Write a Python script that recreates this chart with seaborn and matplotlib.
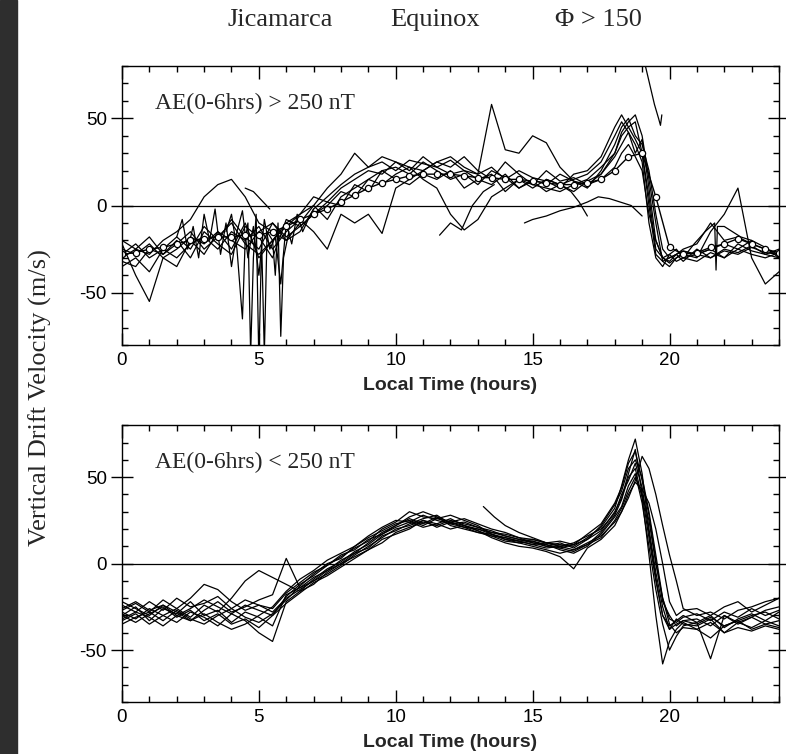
import numpy as np
import pandas as pd
import seaborn as sns
import matplotlib.pyplot as plt
from matplotlib.patches import Rectangle
from matplotlib.ticker import MultipleLocator

# common time grid (hours), finer around the sunset peak
hours = [0, 0.5, 1, 1.5, 2, 2.5, 3, 3.5, 4, 4.5, 5, 5.5, 6, 6.5, 7, 7.5, 8, 8.5, 9, 9.5,
         10, 10.5, 11, 11.5, 12, 12.5, 13, 13.5, 14, 14.5, 15, 15.5, 16, 16.5, 17, 17.5, 18,
         18.25, 18.5, 18.75, 19, 19.25, 19.5, 19.75, 20, 20.25, 20.5,
         21, 21.5, 22, 22.5, 23, 23.5, 24]

# ---- top panel: AE(0-6hrs) > 250 nT ----
top_1 = [-22, -40, -55, -30, -35, -20, -28, -15, -25, -10, -30, -20, -12, -5, 0, -8, 5, 10, 15, 20,
         22, 18, 25, 20, 15, 18, 12, 20, 16, 10, 15, 12, 18, 14, 10, 20, 35,
         45, 50, 40, 35, 20, -5, -25, -30, -28, -32,
         -25, -30, -26, -28, -24, -27, -28]
top_2 = [-30, -25, -28, -20, -15, -8, 5, 12, 15, 5, -10, -15, -20, -10, 0, 10, 18, 30, 22, 25,
         20, 26, 24, 22, 18, 20, 15, 12, 18, 10, 14, 8, 12, 15, 18, 25, 40,
         48, 42, 30, 38, 10, -20, -30, -33, -30, -27,
         -28, -25, -30, -22, -26, -28, -25]
top_3 = [-35, -30, -38, -25, -30, -22, -18, -25, -15, -20, -12, -25, -15, -8, -15, -25, -5, -10, -5, -16,
         10, 15, 20, 25, 22, 28, 20, 15, 25, 18, 12, 20, 14, 16, 12, 18, 30,
         40, 45, 38, 30, 5, -25, -30, -28, -32, -30,
         -28, -25, -22, -25, -20, -24, -30]
top_4 = [-25, -28, -22, -30, -25, -18, -22, -15, -20, -25, -15, -10, -18, -12, -5, 0, 8, 5, 15, 12,
         18, 22, 15, 10, -5, -14, -8, 5, 10, 15, 12, 10, 8, 12, 15, 22, 30,
         42, 48, 52, 40, 15, -10, -32, -35, -30, -28,
         -30, -15, -5, 10, -30, -45, -38]
top_5 = [-20, -25, -18, -28, -22, -15, -25, -18, -10, -22, -28, -20, -10, -5, 5, 2, 10, 15, 20, 18,
         25, 22, 20, 25, 28, 22, 18, 58, 32, 30, 40, 36, 22, 14, 12, 15, 22,
         30, 35, 28, 20, -5, -20, -30, -32, -28, -25,
         -22, -10, -20, -18, -22, -25, -28]
top_6 = [-28, -22, -30, -25, -18, -25, -12, -20, -8, -18, -25, -10, -20, -15, -2, 5, 12, 18, 22, 28,
         25, 20, 28, 22, 26, 20, 18, 22, 15, 20, 16, 14, 10, 18, 20, 28, 45,
         52, 45, 48, 30, 0, -28, -32, -30, -28, -26,
         -28, -30, -25, -27, -23, -28, -30]
top_7 = [-32, -35, -25, -28, -20, -30, -15, -22, -28, -12, -18, -30, -8, -12, -5, 2, 0, 12, 8, 20,
         15, 12, 18, 15, 20, 10, 15, 18, 8, 15, 10, 15, 12, 8, 14, 18, 28,
         35, 42, 35, 25, -10, -30, -35, -28, -25, -30,
         -32, -27, -30, -25, -28, -30, -27]

# short / partial passes in the top panel
seg_a_t = [14.7, 15.0, 15.5, 16.0, 16.5, 17.0, 17.4, 17.8, 18.2, 18.6, 19.0]
seg_a_v = [-10, -8, -6, -3, -1, 2, 5, 4, 2, 0, -6]
seg_b_t = [19.0, 19.15, 19.3, 19.45, 19.6, 19.67, 19.72]
seg_b_v = [88, 78, 68, 58, 50, 46, 52]
seg_c_t = [15.5, 16.0, 16.4, 16.7, 17.0]
seg_c_v = [15, 12, 8, 2, -6]
seg_d_t = [11.6, 12.0, 12.4, 12.8, 13.2, 13.6]
seg_d_v = [-17, -10, -14, 0, 8, 12]
seg_e_t = [20.5, 20.9, 21.3, 21.65, 21.7, 21.75, 22.0, 22.3, 22.6, 23.0]
seg_e_v = [-30, -22, -15, -10, -37, -12, -12, -15, -18, -20]
seg_f_t = [3.8, 4.0, 4.2, 4.4, 4.5, 4.6, 4.7, 4.8, 4.9, 5.0, 5.1, 5.2, 5.3, 5.5, 5.6, 5.7, 5.8, 5.9, 6.1]
seg_f_v = [-15, -5, -25, -65, -20, -10, -85, -30, -5, -90, -20, -85, -15, -20, -40, -10, -75, -30, -15]
seg_g_t = [2.0, 2.2, 2.4, 2.6, 2.8, 3.0, 3.2, 3.4, 3.6, 3.8, 4.0, 4.2, 4.4, 4.6, 4.8, 5.0, 5.2,
           5.4, 5.6, 5.8, 6.0, 6.2, 6.4, 6.6, 6.8, 7.0]
seg_g_v = [-18, -8, -25, -12, -30, -5, -20, -2, -28, -10, -35, -15, -3, -30, -12, -40, -8, -25,
           -18, -45, -10, -22, -5, -15, -8, -2]
seg_h_t = [4.5, 4.8, 5.1, 5.4]
seg_h_v = [10, 8, 3, -2]

# average curve (open circles)
mean_t = [0, 0.5, 1, 1.5, 2, 2.5, 3, 3.5, 4, 4.5, 5, 5.5, 6, 6.5, 7, 7.5, 8, 8.5, 9, 9.5,
          10, 10.5, 11, 11.5, 12, 12.5, 13, 13.5, 14, 14.5, 15, 15.5, 16, 16.5, 17, 17.5, 18,
          18.5, 19, 19.5, 20, 20.5, 21, 21.5, 22, 22.5, 23, 23.5, 24]
mean_v = [-28, -27, -25, -24, -22, -20, -19, -18, -18, -17, -17, -15, -12, -8, -5, -2, 2, 6, 10, 13,
          15, 17, 18, 18, 18, 17, 16, 16, 15, 15, 14, 13, 12, 12, 13, 15, 20,
          28, 30, 5, -24, -28, -27, -24, -22, -19, -22, -25, -27]

# ---- bottom panel: AE(0-6hrs) < 250 nT ----
bot_1 = [-30, -25, -33, -26, -29, -22, -30, -27, -34, -28, -31, -36, -18, -14, -8, -4, 2, 6, 12, 18,
         22, 26, 23, 27, 22, 20, 18, 17, 14, 12, 13, 10, 9, 11, 14, 19, 30,
         38, 52, 66, 40, 15, -10, -30, -38, -35, -33,
         -32, -36, -30, -34, -31, -35, -33]
bot_2 = [-24, -28, -22, -27, -20, -25, -23, -19, -26, -21, -24, -28, -20, -15, -10, -6, -1, 5, 10, 15,
         20, 22, 25, 21, 24, 22, 19, 16, 15, 13, 11, 12, 10, 8, 12, 16, 24,
         30, 38, 48, 62, 55, 40, 22, 5, -10, -26,
         -30, -28, -32, -27, -25, -22, -20]
bot_3 = [-33, -29, -35, -30, -26, -31, -24, -28, -20, -10, -4, -8, -12, -16, -12, -5, 0, 4, 8, 14,
         17, 20, 25, 23, 26, 22, 20, 18, 17, 15, 12, 10, 12, 9, 14, 22, 34,
         42, 55, 60, 50, 30, 5, -20, -35, -40, -37,
         -38, -34, -40, -37, -39, -36, -38]
bot_4 = [-28, -32, -26, -30, -34, -28, -31, -36, -29, -33, -40, -45, -22, -16, -9, -3, 1, 7, 11, 17,
         21, 24, 28, 25, 23, 24, 21, 19, 16, 14, 12, 11, 8, 6, 10, 17, 27,
         33, 45, 52, 35, 10, -15, -35, -50, -42, -36,
         -34, -30, -37, -32, -29, -33, -28]
bot_5 = [-26, -22, -27, -24, -30, -26, -21, -25, -29, -24, -27, -30, -19, -12, -7, -1, 4, 9, 13, 20,
         24, 30, 27, 26, 28, 25, 22, 17, 15, 13, 14, 12, 11, 10, 15, 21, 32,
         45, 60, 72, 52, 20, -5, -25, -38, -32, -35,
         -36, -32, -40, -34, -37, -33, -36]
bot_6 = [-35, -31, -28, -33, -27, -32, -35, -30, -26, -31, -34, -29, -21, -13, -6, 0, 3, 10, 15, 19,
         23, 25, 22, 26, 24, 21, 18, 16, 13, 12, 10, 8, 6, 8, 11, 18, 28,
         37, 50, 55, 38, 5, -30, -58, -45, -38, -34,
         -38, -43, -36, -33, -38, -35, -37]
bot_7 = [-22, -26, -30, -24, -28, -33, -27, -22, -28, -25, -21, -18, 3, -14, -10, -4, 0, 6, 9, 16,
         19, 23, 26, 28, 23, 21, 20, 17, 14, 13, 11, 9, 10, 12, 16, 20, 29,
         40, 48, 58, 44, 18, -8, -30, -36, -33, -30,
         -34, -55, -30, -35, -31, -27, -25]
bot_8 = [-30, -34, -29, -25, -31, -27, -33, -29, -35, -32, -37, -30, -23, -17, -11, -7, -2, 3, 8, 12,
         18, 21, 24, 22, 25, 23, 21, 18, 16, 14, 13, 11, 9, 7, 11, 15, 25,
         32, 42, 50, 40, 25, 0, -20, -32, -34, -31,
         -29, -33, -28, -31, -26, -30, -27]
bot_9 = [-27, -23, -28, -21, -26, -20, -12, -15, -22, -27, -24, -26, -17, -11, -5, -1, 5, 8, 14, 17,
         22, 27, 30, 27, 24, 26, 23, 20, 18, 15, 14, 12, 13, 11, 17, 23, 35,
         44, 58, 65, 48, 28, 2, -22, -30, -36, -33,
         -35, -31, -36, -33, -30, -28, -32]
bot_10 = [-32, -28, -31, -36, -30, -33, -29, -34, -38, -35, -30, -25, -16, -9, -4, 2, 6, 10, 16, 21,
          25, 24, 21, 23, 20, 22, 19, 15, 12, 10, 9, 7, 4, -3, 9, 14, 22,
          30, 40, 47, 43, 35, 20, 0, -22, -30, -27,
          -26, -30, -25, -22, -28, -24, -20]
seg_k_t = [13.2, 13.6, 14.0, 14.5, 15.0, 15.5, 16.0, 16.5]
seg_k_v = [33, 27, 22, 18, 15, 12, 10, 11]

top_runs = [(hours, top_1), (hours, top_2), (hours, top_3), (hours, top_4), (hours, top_5),
            (hours, top_6), (hours, top_7),
            (seg_a_t, seg_a_v), (seg_b_t, seg_b_v), (seg_c_t, seg_c_v), (seg_d_t, seg_d_v),
            (seg_e_t, seg_e_v), (seg_f_t, seg_f_v), (seg_g_t, seg_g_v), (seg_h_t, seg_h_v)]
bot_runs = [(hours, bot_1), (hours, bot_2), (hours, bot_3), (hours, bot_4), (hours, bot_5),
            (hours, bot_6), (hours, bot_7), (hours, bot_8), (hours, bot_9), (hours, bot_10),
            (seg_k_t, seg_k_v)]

sns.set_theme(style='ticks')
plt.rcParams['font.family'] = ['Liberation Sans', 'DejaVu Sans']
plt.rcParams['axes.edgecolor'] = 'black'
plt.rcParams['axes.linewidth'] = 1.0
plt.rcParams['axes.unicode_minus'] = False

fig = plt.figure(figsize=(7.86, 7.54), dpi=100)
fig.patches.append(Rectangle((0, 0), 17 / 786, 1, transform=fig.transFigure,
                             color='#2e2e2e', zorder=0))

ax1 = fig.add_axes([0.1552, 0.5424, 0.8359, 0.370])
ax2 = fig.add_axes([0.1552, 0.069, 0.8359, 0.367])


def draw_runs(ax, runs):
    frames = []
    for i, (t, v) in enumerate(runs):
        frames.append(pd.DataFrame({'t': t, 'v': v, 'run': i}))
    df = pd.concat(frames, ignore_index=True)
    sns.lineplot(data=df, x='t', y='v', units='run', estimator=None, sort=False,
                 color='black', lw=0.9, ax=ax, legend=False)


draw_runs(ax1, top_runs)
sns.lineplot(x=mean_t, y=mean_v, color='black', lw=1.0, marker='o', markersize=4.5,
             markerfacecolor='white', markeredgecolor='black', markeredgewidth=0.9, ax=ax1)
draw_runs(ax2, bot_runs)

labels = ['AE(0-6hrs) > 250 nT', 'AE(0-6hrs) < 250 nT']
for ax, lab in zip([ax1, ax2], labels):
    ax.axhline(0, color='black', lw=0.9)
    ax.set_xlim(0, 24)
    ax.set_ylim(-80, 80)
    ax.xaxis.set_major_locator(MultipleLocator(5))
    ax.xaxis.set_minor_locator(MultipleLocator(1))
    ax.yaxis.set_major_locator(MultipleLocator(50))
    ax.yaxis.set_minor_locator(MultipleLocator(10))
    ax.tick_params(which='both', direction='in', top=True, right=True, colors='black',
                   labelsize=13.5, width=1.0)
    ax.tick_params(axis='x', which='major', length=9, pad=5)
    ax.tick_params(axis='y', which='major', direction='inout', length=16, pad=3)
    ax.tick_params(which='minor', length=4)
    ax.set_xlabel('Local Time (hours)', fontsize=14, fontweight='bold', labelpad=6)
    ax.set_ylabel('')
    ax.text(0.05, 0.865, lab, transform=ax.transAxes, va='center', ha='left',
            family='Liberation Serif', fontsize=17)

fig.text(228 / 786, 1 - 20 / 754, 'Jicamarca', family='Liberation Serif', fontsize=19, va='center')
fig.text(390 / 786, 1 - 20 / 754, 'Equinox', family='Liberation Serif', fontsize=19, va='center')
fig.text(555 / 786, 1 - 20 / 754, 'Φ > 150', family='Liberation Serif', fontsize=19, va='center')
fig.text(40 / 786, 1 - 398 / 754, 'Vertical Drift Velocity (m/s)', rotation=90,
         family='Liberation Serif', fontsize=19, va='center', ha='center')

fig.savefig('out.png', dpi=100)
